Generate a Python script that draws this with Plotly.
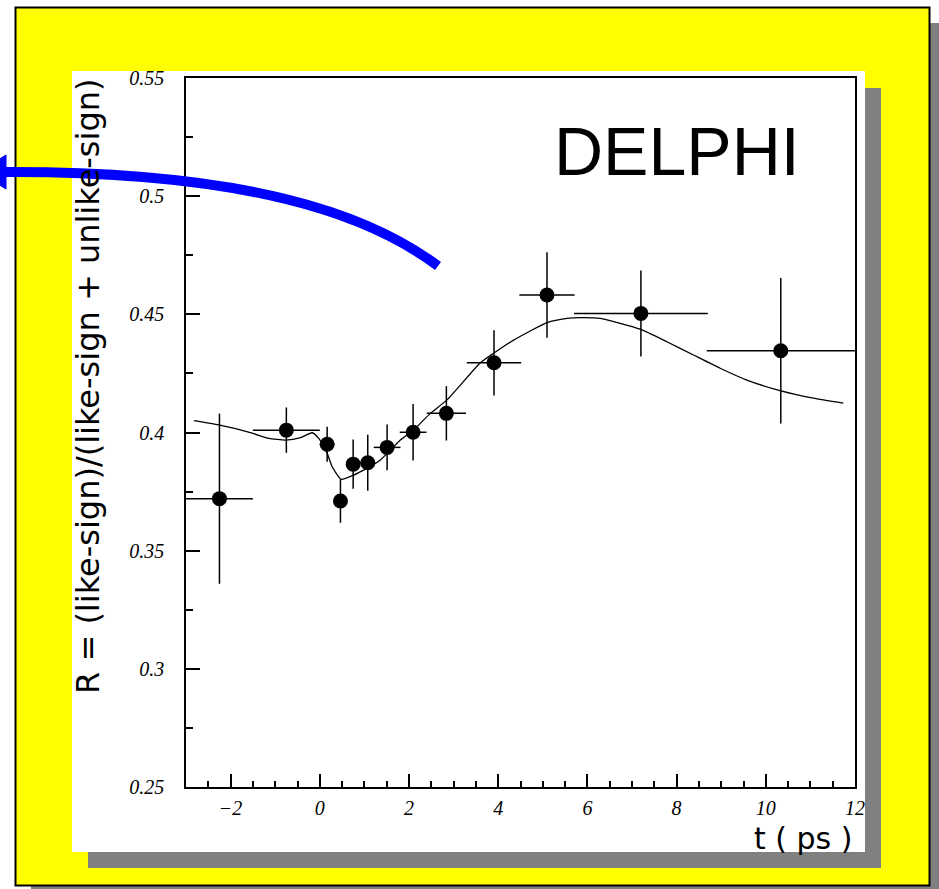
import plotly.graph_objects as go

# ---------------- data ----------------
t_pts = [-2.25, -0.75, 0.165, 0.463, 0.748, 1.075, 1.509, 2.092, 2.838, 3.906, 5.094, 7.2, 10.336]
R_pts = [0.372, 0.401, 0.395, 0.371, 0.3866, 0.3872, 0.3937, 0.4001, 0.4081, 0.4295, 0.4582, 0.4504, 0.4346]
t_err = [0.75, 0.75, 0.165, 0.135, 0.15, 0.17, 0.3, 0.3, 0.44, 0.61, 0.62, 1.5, 1.66]
R_err = [0.036, 0.0096, 0.0074, 0.0092, 0.0104, 0.0118, 0.0097, 0.012, 0.0115, 0.0138, 0.0181, 0.0182, 0.0308]

fit_t = [-2.823, -2.263, -1.515, -1.143, -0.769, -0.433, -0.171, -0.023, 0.165, 0.277, 0.479,
         0.761, 1.061, 1.359, 1.807, 2.105, 2.479, 2.853, 3.600, 3.897, 4.345, 5.094, 5.542,
         5.840, 6.288, 6.736, 7.184, 7.782, 8.378, 8.976, 9.574, 10.320, 11.066, 11.738]
fit_R = [0.4050, 0.4032, 0.3997, 0.3975, 0.3968, 0.3978, 0.3999, 0.3975, 0.3912, 0.3855, 0.3802,
         0.3820, 0.3849, 0.3884, 0.3968, 0.4011, 0.4081, 0.4138, 0.4295, 0.4335, 0.4391, 0.4465, 0.4483,
         0.4486, 0.4483, 0.4462, 0.4437, 0.4384, 0.4328, 0.4272, 0.4222, 0.4177, 0.4145, 0.4124]

x_range = [-3, 12]
y_range = [0.25, 0.55]
x_title = "t ( ps )"
y_title = "R = (like-sign)/(like-sign + unlike-sign)"
label = "DELPHI"

# ---------------- geometry helpers ----------------
W, H = 939, 889
PL, PR, PT, PB = 186, 855, 78, 787


def px(x):
    return (x - PL) / (PR - PL)


def py(y):
    return (PB - y) / (PB - PT)


fig = go.Figure()

fig.add_trace(go.Scatter(
    x=fit_t, y=fit_R, mode="lines",
    line=dict(color="black", width=1.3, shape="spline", smoothing=0.5),
    hoverinfo="skip", showlegend=False,
))

fig.add_trace(go.Scatter(
    x=t_pts, y=R_pts, mode="markers",
    marker=dict(color="black", size=15, symbol="circle"),
    error_x=dict(type="data", array=t_err, color="black", thickness=1.5, width=0),
    error_y=dict(type="data", array=R_err, color="black", thickness=1.5, width=0),
    showlegend=False,
))

shapes = []
# outer shadow
shapes.append(dict(type="rect", xref="paper", yref="paper", layer="below",
                   x0=px(31), x1=px(950), y0=py(23), y1=py(905),
                   fillcolor="#808080", line=dict(width=0)))
# yellow frame
shapes.append(dict(type="rect", xref="paper", yref="paper", layer="below",
                   x0=px(15.5), x1=px(929.5), y0=py(7.5), y1=py(885.5),
                   fillcolor="#ffff00", line=dict(color="black", width=2)))
# inner shadow
shapes.append(dict(type="rect", xref="paper", yref="paper", layer="below",
                   x0=px(88), x1=px(881), y0=py(88), y1=py(868),
                   fillcolor="#808080", line=dict(width=0)))
# white panel
shapes.append(dict(type="rect", xref="paper", yref="paper", layer="below",
                   x0=px(72), x1=px(865), y0=py(71), y1=py(852),
                   fillcolor="white", line=dict(width=0)))

# blue curved arrow
p0 = (438, 266)
c1 = (370, 215)
c2 = (250, 171)
p3 = (4, 172)
path = (f"M {px(p0[0])},{py(p0[1])} C {px(c1[0])},{py(c1[1])} "
        f"{px(c2[0])},{py(c2[1])} {px(p3[0])},{py(p3[1])}")
shapes.append(dict(type="path", xref="paper", yref="paper", layer="above",
                   path=path, line=dict(color="#0000ff", width=10)))
head = (f"M {px(6)},{py(155)} L {px(-22)},{py(172)} L {px(6)},{py(189)} Z")
shapes.append(dict(type="path", xref="paper", yref="paper", layer="above",
                   path=head, fillcolor="#0000ff", line=dict(color="#0000ff", width=1)))

annotations = [
    dict(text=label, xref="paper", yref="paper", x=px(677), y=py(151),
         xanchor="center", yanchor="middle", showarrow=False,
         font=dict(family="Liberation Sans", size=68, color="black")),
    dict(text=x_title, xref="paper", yref="paper", x=px(803), y=py(838),
         xanchor="center", yanchor="middle", showarrow=False,
         font=dict(family="DejaVu Sans", size=30, color="black")),
    dict(text=y_title, xref="paper", yref="paper", x=px(88), y=py(386),
         xanchor="center", yanchor="middle", showarrow=False, textangle=-90,
         font=dict(family="DejaVu Sans", size=32, color="black")),
]

tickfont = dict(family="Liberation Serif", size=20, color="black", style="italic")

fig.update_layout(
    width=W, height=H,
    margin=dict(l=PL, r=W - PR, t=PT, b=H - PB, pad=0),
    paper_bgcolor="white", plot_bgcolor="white",
    shapes=shapes, annotations=annotations,
    showlegend=False,
    xaxis=dict(range=x_range, dtick=2, tick0=0, ticks="inside", ticklen=13,
               tickwidth=1.5, tickcolor="black", showgrid=False, zeroline=False,
               showline=True, linecolor="black", linewidth=1.5, mirror=True,
               tickfont=tickfont, ticklabelstandoff=2,
               minor=dict(dtick=0.5, ticks="inside", ticklen=6, tickwidth=1.5,
                          tickcolor="black", showgrid=False)),
    yaxis=dict(range=y_range, dtick=0.05, tick0=0.25, ticks="inside", ticklen=14,
               tickwidth=1.5, tickcolor="black", showgrid=False, zeroline=False,
               showline=True, linecolor="black", linewidth=1.5, mirror=True,
               tickfont=tickfont, ticklabelstandoff=16, tickformat="~g",
               minor=dict(dtick=0.025, ticks="inside", ticklen=7, tickwidth=1.5,
                          tickcolor="black", showgrid=False)),
)

fig.write_html("out.html")
